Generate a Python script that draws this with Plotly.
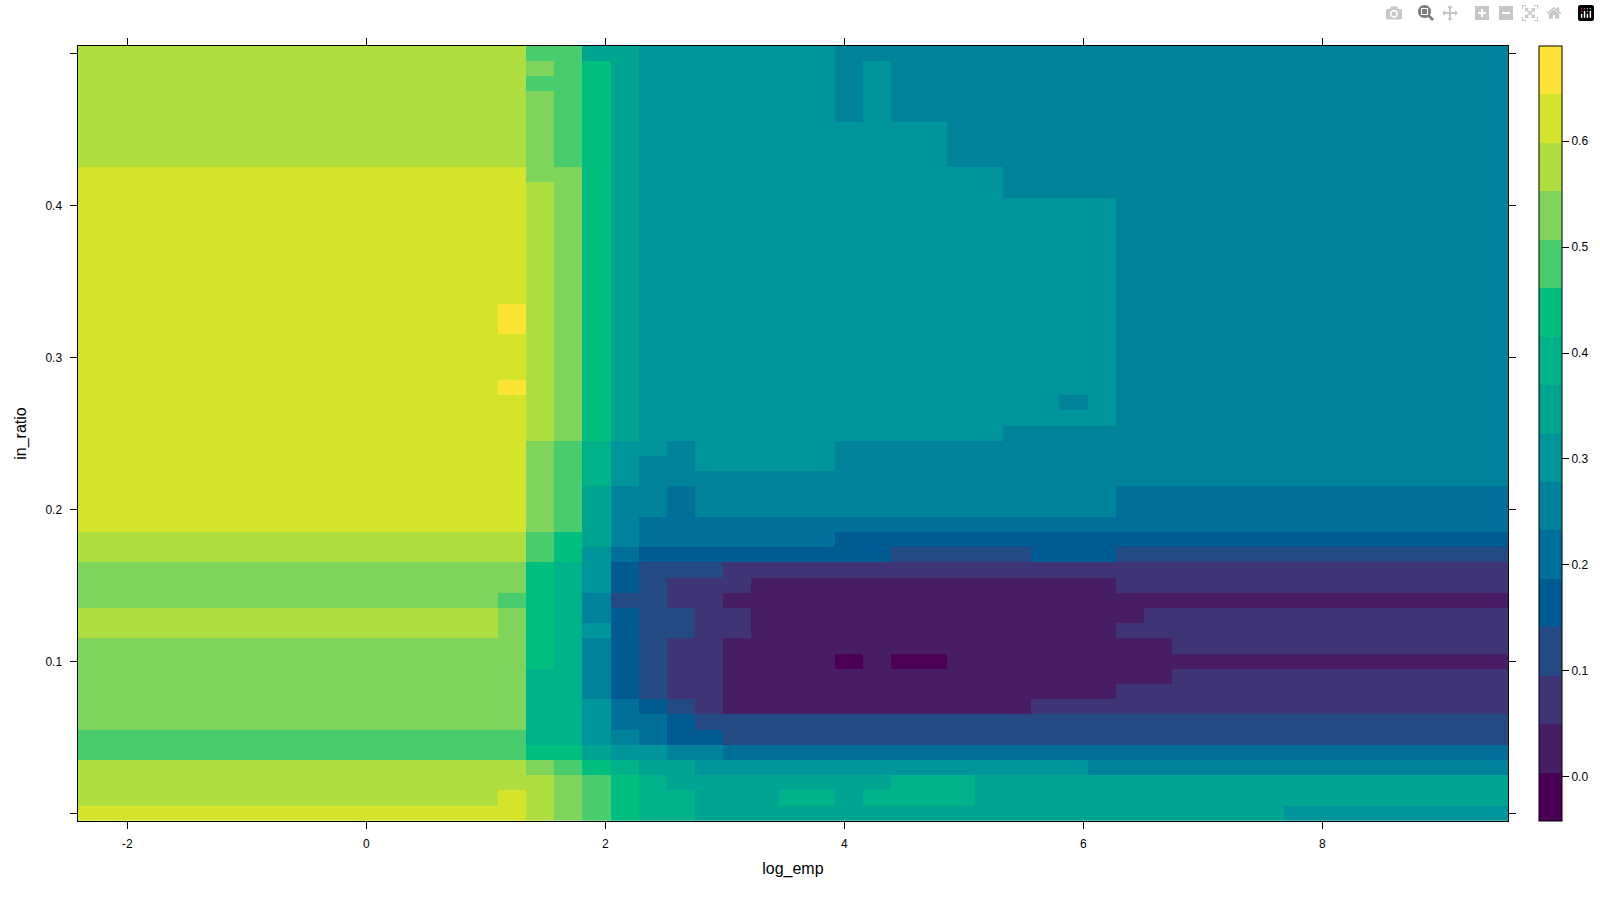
import plotly.graph_objects as go

W, H = 1600, 900
FRAME_L, FRAME_R, FRAME_T, FRAME_B = 77.5, 1508.3, 46.0, 821.0

# Partial-dependence style surface: fill level of each cell, one string per row,
# top row (in_ratio = 0.50) first. Each token is <level hex digit><repeat count>.
level_rows = [
    "d16 b2 82 77 624",
    "d16 c1 b1 a1 81 77 61 71 622",
    "d16 b2 a1 81 77 61 71 622",
    "d16 c1 b1 a1 81 77 61 71 622",
    "d16 c1 b1 a1 81 77 61 71 622",
    "d16 c1 b1 a1 81 711 620",
    "d16 c1 b1 a1 81 711 620",
    "d16 c1 b1 a1 81 711 620",
    "e16 c2 a1 81 713 618",
    "e16 d1 c1 a1 81 713 618",
    "e16 d1 c1 a1 81 717 614",
    "e16 d1 c1 a1 81 717 614",
    "e16 d1 c1 a1 81 717 614",
    "e16 d1 c1 a1 81 717 614",
    "e16 d1 c1 a1 81 717 614",
    "e16 d1 c1 a1 81 717 614",
    "e16 d1 c1 a1 81 717 614",
    "e15 f1 d1 c1 a1 81 717 614",
    "e15 f1 d1 c1 a1 81 717 614",
    "e16 d1 c1 a1 81 717 614",
    "e16 d1 c1 a1 81 717 614",
    "e16 d1 c1 a1 81 717 614",
    "e15 f1 d1 c1 a1 81 717 614",
    "e16 d1 c1 a1 81 715 61 71 614",
    "e16 d1 c1 a1 81 717 614",
    "e16 d1 c1 a1 81 713 618",
    "e16 c1 b1 91 72 61 75 624",
    "e16 c1 b1 91 71 62 75 624",
    "e16 c1 b1 91 71 631",
    "e16 c1 b1 81 62 51 615 514",
    "e16 c1 b1 81 62 51 615 514",
    "e16 c1 b1 81 61 531",
    "d16 b1 a1 81 61 57 424",
    "d16 b1 a1 71 51 49 35 43 314",
    "c16 a1 91 71 41 33 228",
    "c16 a1 91 71 41 31 23 113 214",
    "c15 b1 a1 91 61 32 22 128",
    "d15 c1 a1 91 61 41 32 22 114 213",
    "d15 c1 a1 91 71 41 32 22 113 214",
    "c16 a1 91 61 41 31 22 116 212",
    "c16 a1 91 61 41 31 22 14 01 11 02 120",
    "c16 92 61 41 31 22 116 212",
    "c16 92 61 41 31 22 114 214",
    "c16 92 71 51 41 31 21 111 217",
    "c16 92 71 52 41 329",
    "b16 92 71 61 51 42 328",
    "b16 a2 81 72 62 528",
    "d16 c1 b1 a1 91 82 714 615",
    "d17 c1 b1 a1 91 88 93 819",
    "d15 e1 d1 c1 b1 a1 92 83 92 81 94 819",
    "e16 d1 c1 b1 a1 92 821 78",
]
level_digits = "0123456789abcdef"

level_values = [-0.019, 0.026, 0.072, 0.118, 0.164, 0.210, 0.255, 0.301,
                0.347, 0.393, 0.438, 0.484, 0.530, 0.576, 0.621, 0.667]
band_colors = ["#4B0055", "#471E63", "#3F3476", "#254A83", "#005B92", "#006F9A",
               "#00829B", "#00959A", "#00A592", "#00B28A", "#00BE7D", "#49CC6E",
               "#7FD55C", "#AEDE3F", "#D5E32A", "#FDE333"]
z_min, z_max = -0.042, 0.690

x_first, x_step, n_cols = -2.3, 0.23476, 51
y_top, y_step = 0.50, 0.01

x_ticks = [-2, 0, 2, 4, 6, 8]
y_ticks = [0.0, 0.1, 0.2, 0.3, 0.4, 0.5]
y_tick_text = ["", "0.1", "0.2", "0.3", "0.4", ""]
key_ticks = [0.0, 0.1, 0.2, 0.3, 0.4, 0.5, 0.6]
key_text = ["0.0", "0.1", "0.2", "0.3", "0.4", "0.5", "0.6"]


def expand(row):
    out = []
    for tok in row.split():
        out += [level_values[level_digits.index(tok[0])]] * int(tok[1:])
    assert len(out) == n_cols, (row, len(out))
    return out


z = [expand(r) for r in level_rows]
xs = [x_first + i * x_step for i in range(n_cols)]
ys = [round(y_top - i * y_step, 2) for i in range(len(level_rows))]

n = len(band_colors)
scale = []
for i, c in enumerate(band_colors):
    scale += [[i / n, c], [(i + 1) / n, c]]

x_per_px = 119.5
y_per_px = 1520.0
x_range = [(FRAME_L - 366.3) / x_per_px, (FRAME_R - 366.3) / x_per_px]
y_range = [(813.3 - FRAME_B) / y_per_px, (813.3 - FRAME_T) / y_per_px]

FONT = "Liberation Sans, Arial, sans-serif"
tick_font = dict(family=FONT, size=12, color="black")

fig = go.Figure(go.Heatmap(
    x=xs, y=ys, z=z, zmin=z_min, zmax=z_max, colorscale=scale, hoverongaps=False,
    colorbar=dict(
        xref="container", yref="container",
        x=1539 / W, xanchor="left", y=1 - FRAME_T / H, yanchor="top",
        thickness=23, thicknessmode="pixels",
        len=FRAME_B - FRAME_T, lenmode="pixels",
        xpad=0, ypad=0, outlinecolor="black", outlinewidth=1,
        ticks="outside", ticklen=7, tickwidth=1, tickcolor="black",
        tickmode="array", tickvals=key_ticks, ticktext=key_text,
        tickfont=tick_font, bgcolor="rgba(0,0,0,0)",
    ),
))

axis_style = dict(
    showline=True, linecolor="black", linewidth=1, mirror="allticks",
    ticks="outside", ticklen=7, tickwidth=1, tickcolor="black",
    showgrid=False, zeroline=False, tickfont=tick_font, automargin=False,
)

fig.update_layout(
    width=W, height=H, paper_bgcolor="white", plot_bgcolor="white",
    margin=dict(l=0, r=0, t=0, b=0, pad=0, autoexpand=False),
    font=dict(family=FONT, color="black"),
    xaxis=dict(
        domain=[FRAME_L / W, FRAME_R / W], range=x_range,
        tickmode="array", tickvals=x_ticks, ticktext=[str(v) for v in x_ticks],
        ticklabelstandoff=5,
        title=dict(text="log_emp", font=dict(family=FONT, size=16), standoff=12),
        **axis_style,
    ),
    yaxis=dict(
        domain=[1 - FRAME_B / H, 1 - FRAME_T / H], range=y_range,
        tickmode="array", tickvals=y_ticks, ticktext=y_tick_text,
        ticklabelstandoff=5,
        title=dict(text="in_ratio", font=dict(family=FONT, size=16), standoff=14),
        **axis_style,
    ),
)

fig.write_html("out.html", post_script="document.body.style.margin='0';")
